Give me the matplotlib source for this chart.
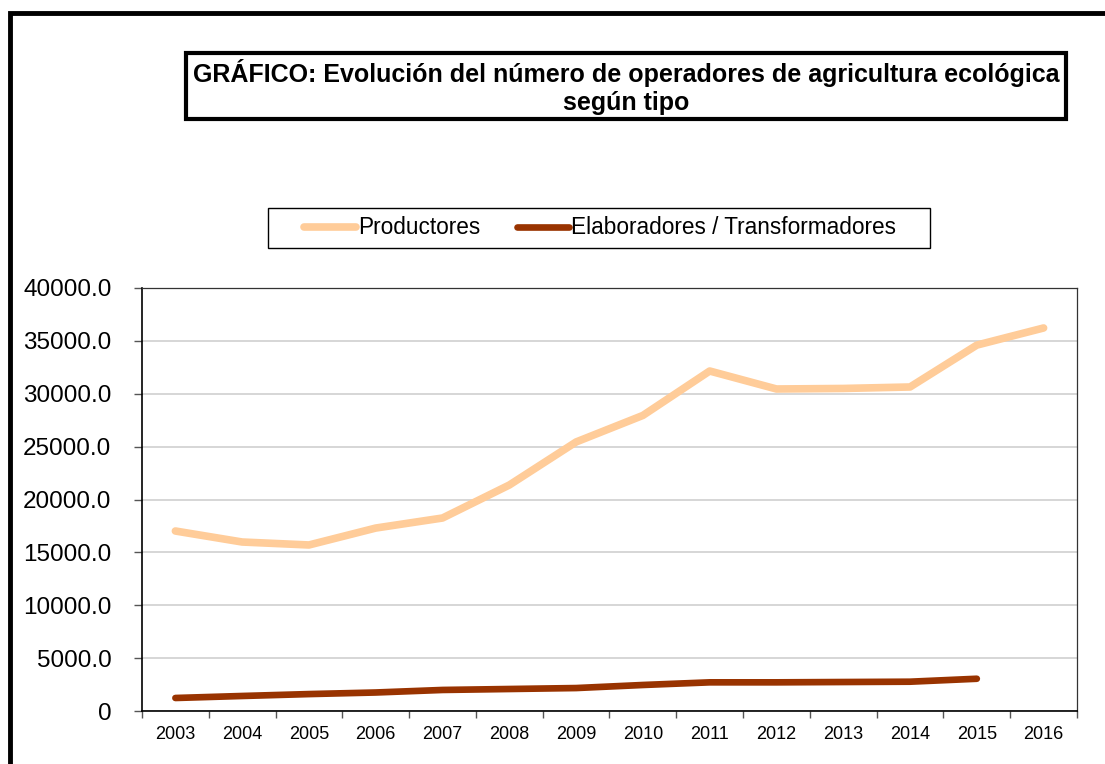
import numpy as np
import matplotlib.pyplot as plt
from matplotlib.patches import Rectangle
from matplotlib.ticker import FixedLocator, FuncFormatter

plt.rcParams['font.family'] = ['Liberation Sans', 'DejaVu Sans']

years = ['2003', '2004', '2005', '2006', '2007', '2008', '2009',
         '2010', '2011', '2012', '2013', '2014', '2015', '2016']
productores = [17020, 15980, 15700, 17300, 18250, 21370, 25440,
               27950, 32150, 30450, 30500, 30640, 34600, 36220]
elaboradores = [1230, 1420, 1600, 1750, 1990, 2080, 2170,
                2460, 2710, 2710, 2740, 2770, 3050]

W, H = 1105, 764
fig = plt.figure(figsize=(W / 100, H / 100), dpi=100)

# outer frame (cut by the right and bottom edges)
fig.patches.append(Rectangle((10 / W, -0.05), 1.2, (H - 13) / H + 0.05,
                             transform=fig.transFigure, fill=False,
                             edgecolor='black', linewidth=3.5))

ax = fig.add_axes([142 / W, (H - 711) / H, (1077 - 142) / W, (711 - 288) / H])

x = np.arange(len(years))
ax.plot(x, productores, color='#ffcc99', linewidth=5.5,
        solid_capstyle='round', solid_joinstyle='round', label='Productores')
ax.plot(x[:len(elaboradores)], elaboradores, color='#993300', linewidth=4.8,
        solid_capstyle='round', solid_joinstyle='round',
        label='Elaboradores / Transformadores')

ax.set_xlim(-0.5, len(years) - 0.5)
ax.set_ylim(0, 40000)
ax.set_yticks(np.arange(0, 40001, 5000))
ax.yaxis.set_major_formatter(FuncFormatter(lambda v, p: '0' if v == 0 else f'{v:.1f}'))
ax.tick_params(axis='y', labelsize=17.5, length=6, width=1, colors='#555555',
               labelcolor='black', pad=16)
ax.grid(axis='y', color='#d0d0d0', linewidth=1.2)
ax.set_axisbelow(True)

ax.set_xticks(x)
ax.set_xticklabels(years)
ax.xaxis.set_minor_locator(FixedLocator(np.arange(-0.5, len(years), 1)))
ax.tick_params(axis='x', which='major', length=0, labelsize=13, pad=11)
ax.tick_params(axis='x', which='minor', length=5, width=1, colors='#555555')

for s in ['left', 'bottom']:
    ax.spines[s].set_color('black')
    ax.spines[s].set_linewidth(1.2)
for s in ['top', 'right']:
    ax.spines[s].set_color('#333333')
    ax.spines[s].set_linewidth(0.9)

# title box
fig.patches.append(Rectangle((186 / W, 1 - 119 / H), (1066 - 186) / W, (119 - 53) / H,
                             transform=fig.transFigure, fill=True, facecolor='white',
                             edgecolor='black', linewidth=3))
fig.text(626 / W, 1 - 87 / H,
         'GRÁFICO: Evolución del número de operadores de agricultura ecológica\nsegún tipo',
         ha='center', va='center', fontsize=18, fontweight='bold', linespacing=1.2)

# legend box
fig.patches.append(Rectangle((268 / W, 1 - 248 / H), (930 - 268) / W, (248 - 208) / H,
                             transform=fig.transFigure, fill=False,
                             edgecolor='black', linewidth=1.0))
leg = fig.legend(loc='center', bbox_to_anchor=(600 / W, 1 - 228 / H), ncol=2,
                 fontsize=16.3, frameon=False,
                 handlelength=2.3, handletextpad=0.1, columnspacing=1.6,
                 borderpad=0.2)

fig.savefig('out.png', dpi=100)
